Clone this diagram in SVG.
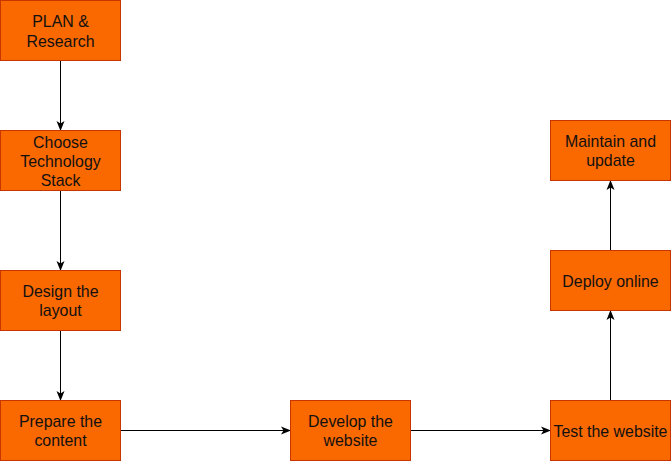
<svg xmlns="http://www.w3.org/2000/svg" width="671" height="461" viewBox="0 0 671 461">
<style>
.box{fill:#fa6800;stroke:#c73500;stroke-width:1}
.t{font-family:"Liberation Sans",Arial,sans-serif;font-size:15.9px;fill:#111;text-anchor:middle}
.e{fill:none;stroke:#000;stroke-width:1}
</style>
<defs>
<marker id="a" viewBox="0 0 10 10" refX="9" refY="5" markerWidth="10" markerHeight="10" markerUnits="userSpaceOnUse" orient="auto">
<path d="M0,1 L10,5 L0,9 L2.5,5 Z" fill="#000"/>
</marker>
</defs>
<g id="edges">
<path class="e" d="M60.5,60.5 V130" marker-end="url(#a)"/>
<path class="e" d="M60.5,190.5 V270" marker-end="url(#a)"/>
<path class="e" d="M60.5,330.5 V400" marker-end="url(#a)"/>
<path class="e" d="M120.5,430.5 H290" marker-end="url(#a)"/>
<path class="e" d="M410.5,430.5 H550" marker-end="url(#a)"/>
<path class="e" d="M610.5,400.5 V311" marker-end="url(#a)"/>
<path class="e" d="M610.5,250.5 V181" marker-end="url(#a)"/>
</g>
<g id="n1"><rect class="box" x="0.5" y="0.5" width="120" height="60"/><text class="t" x="60.5" y="27">PLAN &amp;</text><text class="t" x="60.5" y="46.5">Research</text></g>
<g id="n2"><rect class="box" x="0.5" y="130.5" width="120" height="60"/><text class="t" x="60.5" y="147.5">Choose</text><text class="t" x="60.5" y="166.5">Technology</text><text class="t" x="60.5" y="185.5">Stack</text></g>
<g id="n3"><rect class="box" x="0.5" y="270.5" width="120" height="60"/><text class="t" x="60.5" y="297">Design the</text><text class="t" x="60.5" y="316">layout</text></g>
<g id="n4"><rect class="box" x="0.5" y="400.5" width="120" height="60"/><text class="t" x="60.5" y="427">Prepare the</text><text class="t" x="60.5" y="446">content</text></g>
<g id="n5"><rect class="box" x="290.5" y="400.5" width="120" height="60"/><text class="t" x="350.5" y="427">Develop the</text><text class="t" x="350.5" y="446">website</text></g>
<g id="n6"><rect class="box" x="550.5" y="400.5" width="120" height="60"/><text class="t" x="610.5" y="436.5">Test the website</text></g>
<g id="n7"><rect class="box" x="550.5" y="250.5" width="120" height="60"/><text class="t" x="610.5" y="286.5">Deploy online</text></g>
<g id="n8"><rect class="box" x="550.5" y="120.5" width="120" height="60"/><text class="t" x="610.5" y="147">Maintain and</text><text class="t" x="610.5" y="166">update</text></g>
</svg>
